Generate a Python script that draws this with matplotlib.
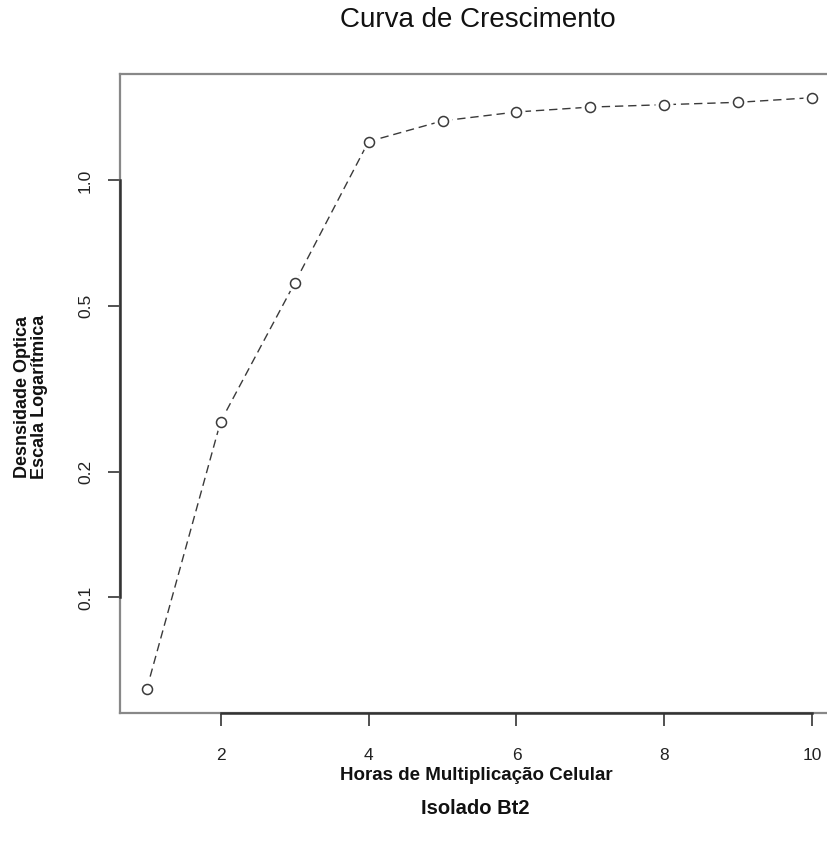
import matplotlib
matplotlib.use("Agg")
import matplotlib.pyplot as plt
import numpy as np

# data
hours = [1, 2, 3, 4, 5, 6, 7, 8, 9, 10]
density = [0.0602, 0.264, 0.567, 1.24, 1.39, 1.46, 1.50, 1.52, 1.54, 1.58]
x_ticks = [2, 4, 6, 8, 10]
y_ticks = [0.1, 0.2, 0.5, 1.0]
y_ticklabels = ["0.1", "0.2", "0.5", "1.0"]

title = "Curva de Crescimento"
xlabel = "Horas de Multiplicação Celular"
ylabel = "Desnsidade Optica\nEscala Logarítmica"
subtitle = "Isolado Bt2"

W, H = 828, 851
fig = plt.figure(figsize=(W / 100, H / 100), dpi=100)
ax = fig.add_axes([120 / W, 1 - 713 / H, 719 / W, (713 - 74) / H])

ax.set_yscale("log")
# R-style 4% expansion
xr = max(hours) - min(hours)
ax.set_xlim(min(hours) - 0.04 * xr, max(hours) + 0.04 * xr)
ly = np.log10(density)
lr = ly.max() - ly.min()
ax.set_ylim(10 ** (ly.min() - 0.04 * lr), 10 ** (ly.max() + 0.04 * lr))

ax.plot(hours, density, linestyle=(0, (6, 3.5)), color="#3a3a3a", lw=1.0, zorder=2)
ax.plot(hours, density, linestyle="none", marker="o", markersize=12,
        markerfacecolor="white", markeredgecolor="white", zorder=3)
ax.plot(hours, density, linestyle="none", marker="o", markersize=7.2,
        markerfacecolor="white", markeredgecolor="#3a3a3a", markeredgewidth=1.1, zorder=4)

ax.set_xticks(x_ticks)
ax.set_xticklabels([str(t) for t in x_ticks])
ax.set_yticks(y_ticks)
ax.set_yticklabels(y_ticklabels, rotation=90, va="center")
ax.yaxis.set_minor_locator(matplotlib.ticker.NullLocator())

base = ["Liberation Sans", "DejaVu Sans"]
ax.tick_params(axis="both", direction="out", length=9, width=1.2, color="#333333",
               labelsize=12.5, labelcolor="#222222")
ax.tick_params(axis="x", pad=16)
ax.tick_params(axis="y", pad=10.5)
for lab in ax.get_xticklabels() + ax.get_yticklabels():
    lab.set_family(base)

for s in ax.spines.values():
    s.set_color("#888888")
    s.set_linewidth(1.6)

# axis lines (R-style) spanning tick range
x0 = ax.get_xlim()[0]
y0 = ax.get_ylim()[0]
ax.plot([x0, x0], [min(y_ticks), max(y_ticks)], color="#333333", lw=1.8, clip_on=False, zorder=5)
ax.plot([min(x_ticks), max(x_ticks)], [y0, y0], color="#333333", lw=1.8, clip_on=False, zorder=5)

fig.text(478 / W, 1 - 20 / H, title, ha="center", va="center", fontsize=20,
         family=base, color="#111111")
fig.text(476 / W, 1 - 775 / H, xlabel, ha="center", va="center", fontsize=13.5,
         fontweight="bold", family=base, color="#111111")
fig.text(475 / W, 1 - 808 / H, subtitle, ha="center", va="center", fontsize=14.5,
         fontweight="bold", family=base, color="#111111")
fig.text(31 / W, 1 - 397 / H, ylabel, ha="center", va="center", rotation=90,
         fontsize=13, fontweight="bold", family=base, color="#111111",
         linespacing=1.0, multialignment="center")

fig.savefig("out.png", dpi=100)
